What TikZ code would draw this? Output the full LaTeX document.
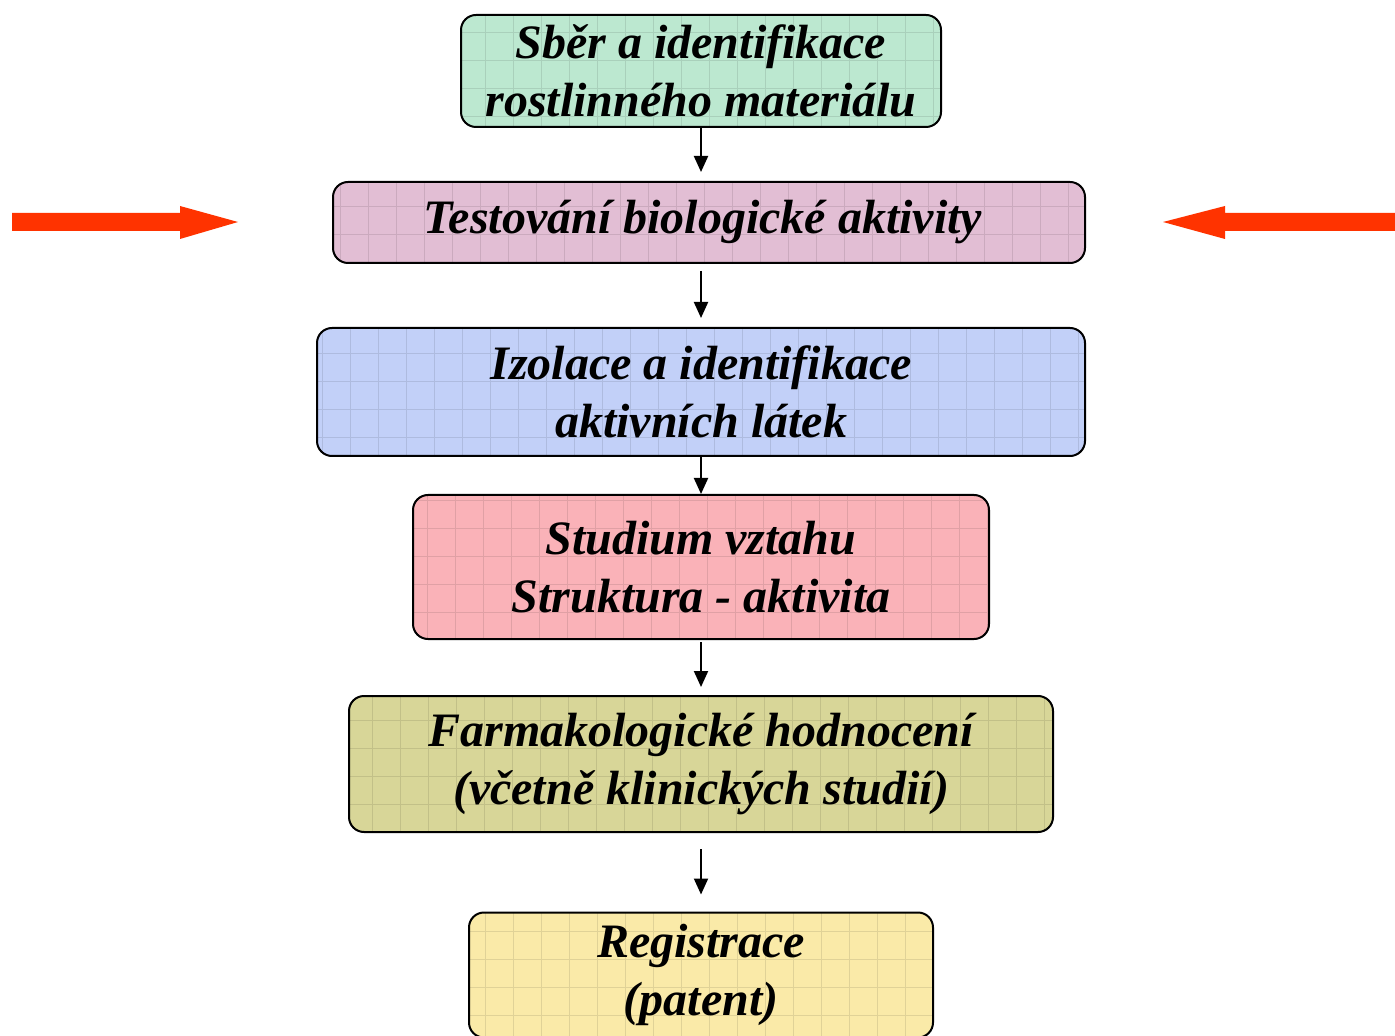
\documentclass[tikz,border=0pt]{standalone}
\usepackage{fontspec}
\setmainfont{Liberation Serif}
\usetikzlibrary{arrows.meta}
\definecolor{cgreen}{RGB}{188,232,208}
\definecolor{cpink}{RGB}{226,190,212}
\definecolor{cblue}{RGB}{194,208,248}
\definecolor{cred}{RGB}{250,178,184}
\definecolor{colive}{RGB}{216,214,152}
\definecolor{cyellow}{RGB}{250,234,168}
\definecolor{corange}{RGB}{255,51,0}
\tikzset{
  stepbox/.style={draw=black, line width=1pt, rounded corners=7.5pt, align=center,
    inner sep=0pt, font=\fontsize{24}{29}\selectfont\bfseries\itshape,
    fill=#1,
    path picture={\draw[#1!60!black, opacity=0.25, line width=0.4pt]
      (path picture bounding box.south west) grid[step=14pt]
      (path picture bounding box.north east);}},
  flow/.style={draw=black, line width=1pt, -{Triangle[length=8pt,width=7pt]}},
}
\begin{document}
\begin{tikzpicture}[x=0.5pt,y=-0.5pt]
\useasboundingbox (0,0) rectangle (1395,1036);
\node[stepbox=cgreen, minimum width=240pt, minimum height=56pt] (b1) at (701,71)
  {Sběr a identifikace\\rostlinného materiálu};
\node[stepbox=cpink, minimum width=376pt, minimum height=40.5pt] (b2) at (709,222.5)
  {Testování biologické aktivity\kern6pt};
\node[stepbox=cblue, minimum width=384pt, minimum height=64pt] (b3) at (701,392)
  {Izolace a identifikace\\aktivních látek};
\node[stepbox=cred, minimum width=288pt, minimum height=72pt] (b4) at (701,567)
  {Studium vztahu\\Struktura - aktivita};
\node[stepbox=colive, minimum width=352pt, minimum height=68pt] (b5) at (701,764)
  {Farmakologické hodnocení\\(včetně klinických studií)};
\node[stepbox=cyellow, minimum width=232pt, minimum height=62.5pt] (b6) at (701,975)
  {Registrace\\(patent)};
\draw[flow, shorten >=4.5pt] (b1.south -| 701,0) -- (b2.north -| 701,0);
\draw[flow, shorten <=3.5pt, shorten >=4.5pt] (b2.south -| 701,0) -- (b3.north -| 701,0);
\draw[flow] (b3.south) -- (b4.north);
\draw[flow, shorten <=1pt, shorten >=4pt] (b4.south) -- (b5.north);
\draw[flow, shorten <=8pt, shorten >=8.5pt] (b5.south) -- (b6.north);
\coordinate (la) at (12,222);
\coordinate (ra) at (1395,222);
\fill[corange, shift={(la)}] (0,-9) -- (168,-9) -- (168,-16) -- (226,0) -- (168,17) -- (168,9) -- (0,9) -- cycle;
\fill[corange, shift={(ra)}] (0,-9) -- (-170,-9) -- (-170,-16) -- (-232,0) -- (-170,17) -- (-170,9) -- (0,9) -- cycle;
\end{tikzpicture}
\end{document}
